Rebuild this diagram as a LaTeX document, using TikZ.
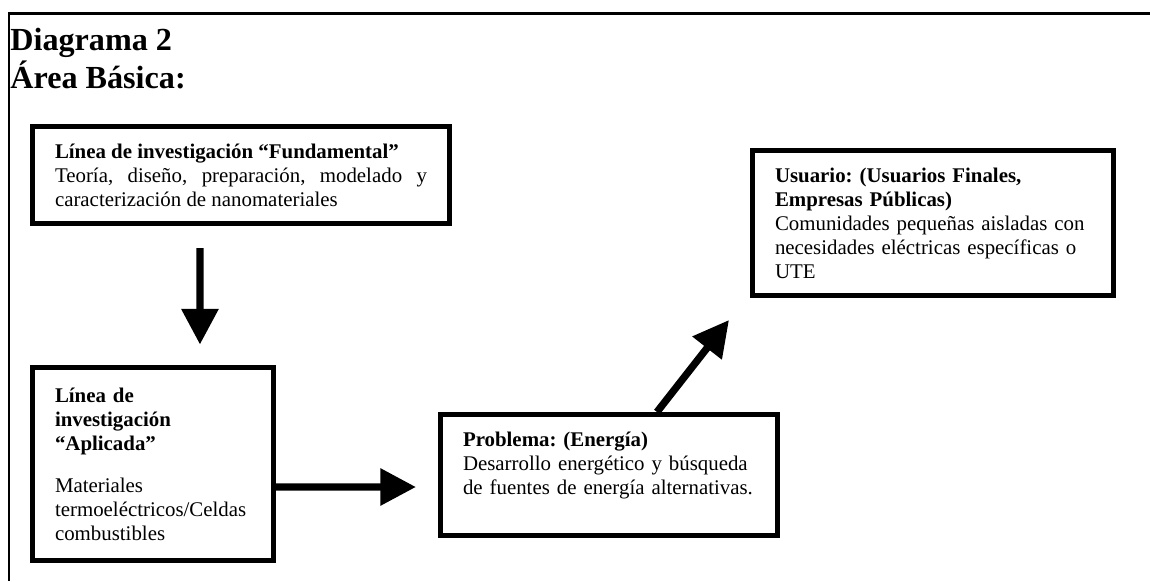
\documentclass[tikz,border=0pt]{standalone}
\usepackage{fontspec}
\setmainfont{Liberation Serif}
\usetikzlibrary{arrows.meta}
\frenchspacing

\begin{document}
\begin{tikzpicture}[x=0.575pt,y=-0.575pt,
frame/.style = {line width=1.2pt},
box node/.style = {draw, line width=2.9pt, inner ysep=0pt, inner xsep=12.9pt,
  font=\fontsize{12}{13.8}\selectfont},
big arrow/.style = {line width=4.2pt, -{Triangle[length=20.5pt,width=20.5pt]}}]

\useasboundingbox (0,0) rectangle (1150,581);
\draw[frame] (1150,13.5) -- (9,13.5) -- (9,581);

\node[anchor=base west, inner sep=0pt, align=left,
  font=\fontsize{18.5}{21.8}\selectfont\bfseries] (title) at (10,88)
  {Diagrama 2\\Área Básica:};

\node[box node, align=justify, text width=213.9pt, minimum width=239.8pt,
  minimum height=55.8pt] (fund) at (241,175)
  {\textbf{Línea de investigación “Fundamental”}\\
   Teoría, diseño, preparación, modelado y\linebreak
   caracterización de nanomateriales};
\node[box node, align=left, text width=112.7pt, minimum width=138.6pt,
  minimum height=111.5pt] (apl) at (153,464)
  {\textbf{Línea de}\\ \textbf{investigación}\\ \textbf{“Aplicada”}\\[10.4pt]
   Materiales\\ termoeléctricos/Celdas\\ combustibles};
\node[box node, align=left, text width=167.9pt, minimum width=193.8pt,
  minimum height=69.6pt] (prob) at (609,475)
  {\textbf{Problema: (Energía)}\\ Desarrollo energético y búsqueda\\
   de fuentes de energía alternativas.\\ \mbox{}};
\node[box node, align=left, text width=181.7pt, minimum width=207.6pt,
  minimum height=83.4pt] (user) at (933,223)
  {\textbf{Usuario: (Usuarios Finales,}\\ \textbf{Empresas Públicas)}\\
   Comunidades pequeñas aisladas con\\ necesidades eléctricas específicas o\\ UTE};

\coordinate (tip) at (729,320);

\draw[big arrow] ([xshift=-23.6pt,yshift=-12.65pt]fund.south)
  -- ([xshift=27pt,yshift=11.5pt]apl.north);
\draw[big arrow] ([yshift=-13.2pt]apl.east)
  -- ([xshift=-12.65pt,yshift=-6.9pt]prob.west);
\draw[big arrow] ([xshift=27.6pt]prob.north) -- (tip);
\end{tikzpicture}
\end{document}
